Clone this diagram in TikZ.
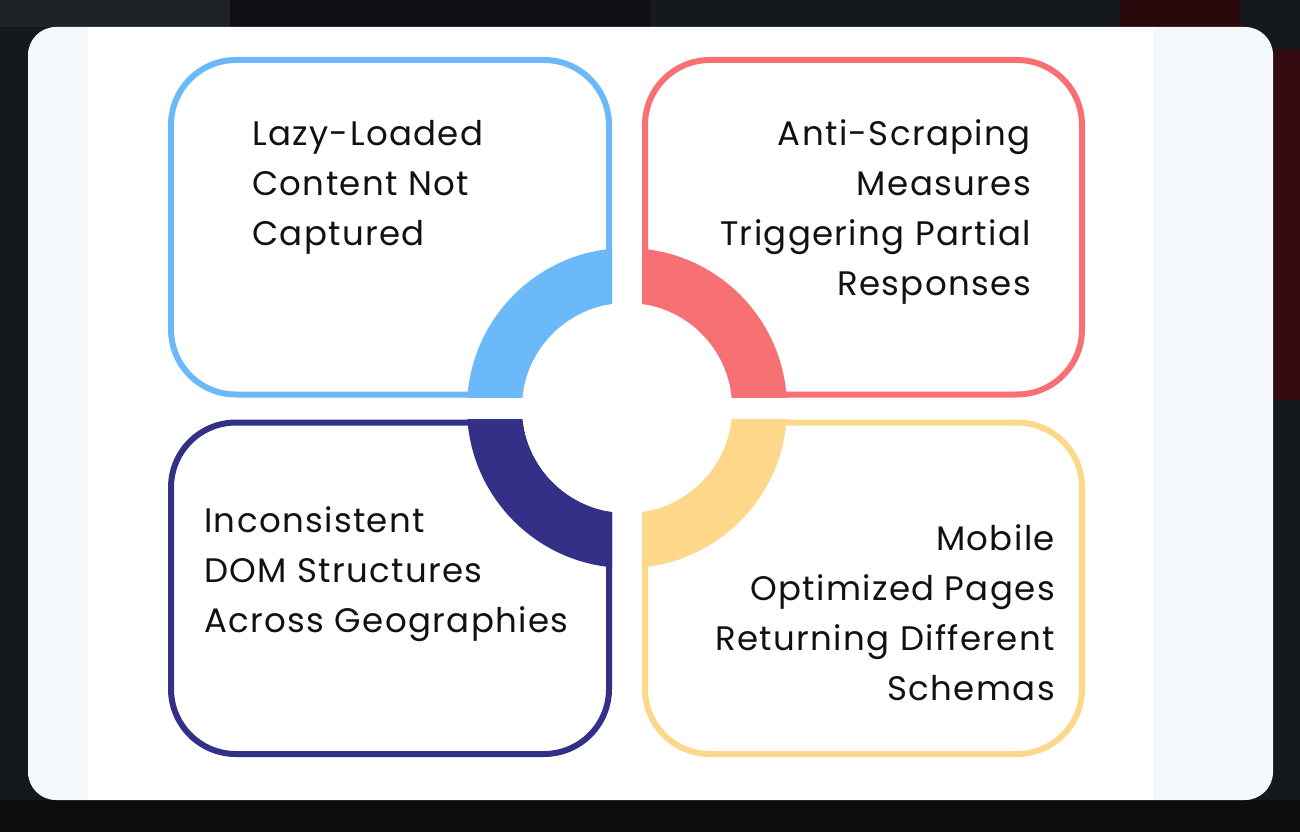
\documentclass[tikz,border=0pt]{standalone}
\usepackage{fontspec}
\setmainfont{Poppins}[LetterSpace=4]
\definecolor{cblue}{HTML}{6BB9F9}
\definecolor{cred}{HTML}{F77174}
\definecolor{cnavy}{HTML}{343087}
\definecolor{cyellow}{HTML}{FDD88A}
\definecolor{cside}{HTML}{F4F8FB}
\definecolor{cbg}{HTML}{16191C}
\definecolor{cbgA}{HTML}{1F2326}
\definecolor{cbgB}{HTML}{0E1013}
\definecolor{cbgC}{HTML}{2A080C}
\definecolor{cbgD}{HTML}{330B10}
\definecolor{cbgE}{HTML}{0D0D0E}
\definecolor{ctext}{HTML}{111111}
\tikzset{
  box/.style={line width=6pt, rounded corners=65pt},
  lbl/.style={inner sep=0pt, text=ctext, font=\fontsize{34}{50}\selectfont},
  lline/.style={lbl, anchor=base west},
  rline/.style={lbl, anchor=base east},
}
\begin{document}
\begin{tikzpicture}[x=1pt,y=-1pt]
\useasboundingbox (0,0) rectangle (1300,832);
% background
\fill[cbg] (0,0) rectangle (1300,832);
\fill[cbgA] (0,0) rectangle (230,27);
\fill[cbgB] (230,0) rectangle (650,27);
\fill[cbgC] (1120,0) rectangle (1240,27);
\fill[cbgD] (1273,50) rectangle (1300,400);
\fill[cbgE] (0,800) rectangle (1300,832);
% card
\fill[cside, rounded corners=28pt] (28,27) rectangle (1273,800);
\fill[white] (88,27) rectangle (1153,800);
% boxes
\draw[box, draw=cblue] (171,60) rectangle (609,394.5);
\draw[box, draw=cred] (645,60) rectangle (1082,394.5);
\draw[box, draw=cnavy] (171,422.5) rectangle (609,754);
\draw[box, draw=cyellow] (645,422.5) rectangle (1082,754);
% ring
\coordinate (c) at (627,408);
\begin{scope}
\clip (460,240) rectangle (612,397);
\fill[cblue, even odd rule] (c) circle[radius=160pt] (c) circle[radius=105pt];
\end{scope}
\begin{scope}
\clip (642,240) rectangle (795,397);
\fill[cred, even odd rule] (c) circle[radius=160pt] (c) circle[radius=105pt];
\end{scope}
\begin{scope}
\clip (460,419) rectangle (612,575);
\fill[cnavy, even odd rule] (c) circle[radius=160pt] (c) circle[radius=105pt];
\end{scope}
\begin{scope}
\clip (642,419) rectangle (795,575);
\fill[cyellow, even odd rule] (c) circle[radius=160pt] (c) circle[radius=105pt];
\end{scope}
\fill[white] (c) circle[radius=105pt];
% texts
\node[lline] (b1) at (252,145) {Lazy-Loaded};
\node[lline] (b2) at (252,195) {Content Not};
\node[lline] (b3) at (252,245) {Captured};
\node[rline] (r1) at (1031,145) {Anti-Scraping};
\node[rline] (r2) at (1031,195) {Measures};
\node[rline] (r3) at (1031,245) {Triggering Partial};
\node[rline] (r4) at (1031,295) {Responses};
\node[lline] (n1) at (204,532) {Inconsistent};
\node[lline] (n2) at (204,582) {DOM Structures};
\node[lline] (n3) at (204,632) {Across Geographies};
\node[rline] (y1) at (1055,550) {Mobile};
\node[rline] (y2) at (1055,600) {Optimized Pages};
\node[rline] (y3) at (1055,650) {Returning Different};
\node[rline] (y4) at (1055,700) {Schemas};
\end{tikzpicture}
\end{document}
